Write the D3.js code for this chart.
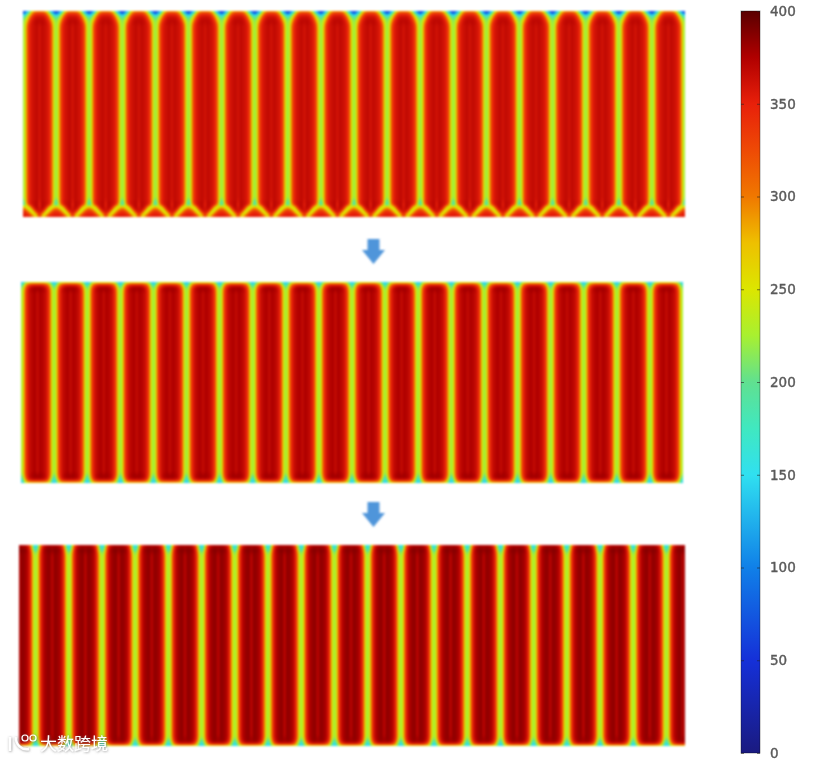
<!DOCTYPE html>
<html>
<head>
<meta charset="utf-8">
<style>
  html, body { margin: 0; padding: 0; background: #fff; }
  #wrap { position: relative; width: 831px; height: 760px; overflow: hidden; }
  canvas, svg { position: absolute; left: 0; top: 0; }
  canvas { filter: blur(0.8px); }
</style>
<script src="https://cdn.jsdelivr.net/npm/d3@7"></script>
</head>
<body>
<div id="wrap"></div>
<script>
// Temperature scale of the colour bar
const tempStops  = [0, 50, 100, 150, 175, 200, 225, 250, 275, 300, 325, 350, 375, 400];
const tempColors = ["#1a1a80", "#1530d8", "#1080e8", "#30e0f0", "#40e8c0", "#60e090", "#a8f030", "#dce600", "#eec000", "#f07800", "#ee4a05", "#e8200a", "#b00000", "#5a0000"];
const tempTicks  = [0, 50, 100, 150, 200, 250, 300, 350, 400];

// Temperature across half a fin, junction to centre line, along the straight part
const bodyA = [218, 238, 312, 345, 358, 362, 366, 368, 358];
const bodyB = [220, 240, 318, 350, 364, 370, 374, 376, 364];
const bodyC = [222, 242, 322, 358, 374, 380, 384, 384, 368];

// End regions of each fin: rows run from the outer edge inward
const endA1 = [
  [40, 70, 105, 160, 225, 262, 280, 285, 285],
  [85, 115, 165, 225, 275, 315, 332, 338, 338],
  [165, 185, 225, 270, 318, 345, 356, 358, 358],
  [200, 215, 252, 300, 340, 356, 364, 366, 366],
  [212, 228, 272, 325, 352, 362, 368, 370, 368],
  [216, 234, 295, 340, 356, 364, 368, 370, 364],
  [218, 236, 308, 344, 358, 362, 366, 368, 360]
];
const endA2 = [
  [355, 355, 352, 348, 338, 310, 272, 285, 335],
  [352, 352, 348, 338, 305, 258, 240, 305, 345],
  [345, 342, 330, 295, 245, 240, 315, 352, 358],
  [318, 310, 280, 240, 242, 320, 356, 366, 358],
  [275, 250, 238, 252, 320, 358, 368, 370, 352],
  [188, 212, 285, 335, 358, 364, 368, 370, 348],
  [178, 226, 315, 348, 360, 364, 368, 370, 352],
  [200, 236, 310, 346, 358, 362, 366, 368, 356]
];
const endB1 = [
  [110, 150, 190, 212, 222, 228, 230, 230, 230],
  [160, 195, 255, 300, 322, 335, 340, 340, 340],
  [200, 225, 292, 335, 356, 368, 372, 374, 374],
  [216, 236, 310, 348, 366, 374, 378, 380, 376],
  [220, 240, 316, 350, 366, 372, 376, 378, 368]
];
const endB2 = [
  [120, 165, 215, 242, 250, 256, 258, 258, 258],
  [145, 188, 258, 310, 336, 346, 350, 350, 350],
  [170, 218, 295, 342, 364, 372, 376, 378, 376],
  [198, 232, 312, 348, 366, 374, 378, 380, 376],
  [216, 240, 318, 350, 364, 372, 376, 378, 368]
];
const endC1 = [
  [140, 178, 262, 325, 355, 365, 370, 370, 370],
  [155, 190, 285, 345, 370, 378, 382, 382, 380],
  [182, 210, 300, 355, 376, 384, 387, 387, 382],
  [206, 230, 314, 358, 376, 382, 386, 386, 376],
  [218, 240, 320, 358, 374, 380, 384, 384, 370]
];
const endC2 = [
  [130, 168, 212, 235, 245, 252, 255, 255, 255],
  [150, 190, 258, 315, 342, 354, 358, 358, 358],
  [182, 220, 298, 350, 368, 378, 382, 382, 378],
  [208, 234, 315, 356, 372, 380, 384, 384, 376],
  [220, 242, 322, 358, 374, 380, 384, 384, 370]
];

const watermark = "大数跨境";

// Page layout
const W = 831, H = 760;
const rowStep = 2.5;
const panels = [
  { x0: 23, x1: 685, y0: 11,  y1: 217, first: 0,   fins: 20, top: endA1, bottom: endA2, body: bodyA },
  { x0: 21, x1: 683, y0: 282, y1: 483, first: 0,   fins: 20, top: endB1, bottom: endB2, body: bodyB },
  { x0: 19, x1: 685, y0: 545, y1: 746, first: -0.5, fins: 20.06, top: endC1, bottom: endC2, body: bodyC }
];
const bar = { x0: 741, x1: 760, y0: 753, y1: 11 };

const color = d3.scaleLinear().domain(tempStops).range(tempColors)
  .interpolate(d3.interpolateRgb).clamp(true);

const wrap = d3.select("#wrap");
const canvas = wrap.append("canvas").attr("width", W).attr("height", H);
const ctx = canvas.node().getContext("2d");
ctx.fillStyle = "#fff";
ctx.fillRect(0, 0, W, H);

// Bilinear lookup in a table of temperatures
function sample(table, r, c) {
  const r0 = Math.min(Math.floor(r), table.length - 1), r1 = Math.min(r0 + 1, table.length - 1);
  const c0 = Math.min(Math.floor(c), table[0].length - 1), c1 = Math.min(c0 + 1, table[0].length - 1);
  const fr = r - r0, fc = c - c0;
  const top = table[r0][c0] * (1 - fc) + table[r0][c1] * fc;
  const bot = table[r1][c0] * (1 - fc) + table[r1][c1] * fc;
  return top * (1 - fr) + bot * fr;
}

// Paint the three temperature fields
panels.forEach(p => {
  const finScale = d3.scaleLinear().domain([p.x0, p.x1]).range([p.first, p.first + p.fins]);
  const colScale = d3.scaleLinear().domain([0, 0.5]).range([0, p.body.length - 1]);
  const topTable = p.top.concat([p.body]);
  const bottomTable = p.bottom.concat([p.body]);
  const topRow = d3.scaleLinear().domain([0, rowStep * p.top.length]).range([0, p.top.length]).clamp(true);
  const bottomRow = d3.scaleLinear().domain([0, rowStep * p.bottom.length]).range([0, p.bottom.length]).clamp(true);
  const w = p.x1 - p.x0, h = p.y1 - p.y0;
  const img = ctx.createImageData(w, h);
  for (let j = 0; j < h; j++) {
    for (let i = 0; i < w; i++) {
      const pos = finScale(p.x0 + i + 0.5);
      const frac = pos - Math.floor(pos);
      const c = colScale(Math.min(frac, 1 - frac));
      const fromTop = j + 0.5, fromBottom = h - j - 0.5;
      const v = fromTop < fromBottom
        ? sample(topTable, topRow(fromTop), c)
        : sample(bottomTable, bottomRow(fromBottom), c);
      const rgb = d3.rgb(color(v));
      const k = (j * w + i) * 4;
      img.data[k] = rgb.r; img.data[k + 1] = rgb.g; img.data[k + 2] = rgb.b; img.data[k + 3] = 255;
    }
  }
  ctx.putImageData(img, p.x0, p.y0);
});

const svg = wrap.append("svg").attr("width", W).attr("height", H);
const defs = svg.append("defs");
defs.append("filter").attr("id", "soft")
  .append("feGaussianBlur").attr("stdDeviation", 1);
const shadow = defs.append("filter").attr("id", "mark-shadow");
shadow.append("feDropShadow").attr("dx", 0.5).attr("dy", 0.5).attr("stdDeviation", 1)
  .attr("flood-color", "#666").attr("flood-opacity", 0.8);

// Flow arrows between the panels
const arrowShape = d3.line()([[-6, -13], [6, -13], [6, -2], [11.5, -2], [0, 12], [-11.5, -2], [-6, -2]]) + "Z";
svg.selectAll(".arrow").data([252, 515]).join("path")
  .attr("class", "arrow")
  .attr("d", arrowShape)
  .attr("transform", d => `translate(373.5,${d})`)
  .attr("fill", "#4f95da")
  .attr("filter", "url(#soft)");

// Colour bar
const tempScale = d3.scaleLinear().domain([0, 400]).range([bar.y0, bar.y1]);
const gradient = defs.append("linearGradient").attr("id", "bar-gradient")
  .attr("x1", 0).attr("x2", 0).attr("y1", 1).attr("y2", 0);
gradient.selectAll("stop").data(tempStops).join("stop")
  .attr("offset", d => d / 400)
  .attr("stop-color", d => color(d));
svg.append("rect")
  .attr("x", bar.x0).attr("y", bar.y1)
  .attr("width", bar.x1 - bar.x0).attr("height", bar.y0 - bar.y1)
  .attr("fill", "url(#bar-gradient)")
  .attr("stroke", "#000").attr("stroke-opacity", 0.35).attr("stroke-width", 1);

// Tick marks on both inner edges of the bar, labels to its right
const tickMarks = (sel, axis) => {
  sel.call(axis);
  sel.select(".domain").remove();
  sel.selectAll("text").remove();
  sel.selectAll("line").attr("stroke", "#222").attr("stroke-opacity", 0.6);
};
svg.append("g").attr("transform", `translate(${bar.x0},0)`)
  .call(tickMarks, d3.axisRight(tempScale).tickValues(tempTicks).tickSize(3));
svg.append("g").attr("transform", `translate(${bar.x1},0)`)
  .call(tickMarks, d3.axisLeft(tempScale).tickValues(tempTicks).tickSize(3));
const labels = svg.append("g").attr("transform", `translate(${bar.x1},0)`)
  .call(d3.axisRight(tempScale).tickValues(tempTicks).tickSize(0).tickPadding(10).tickFormat(d3.format("d")));
labels.select(".domain").remove();
labels.selectAll("text")
  .attr("font-family", "'DejaVu Sans', sans-serif")
  .attr("font-size", 13.5)
  .attr("fill", "#5a5a5a")
  .attr("stroke", "#5a5a5a").attr("stroke-width", 0.4);

// Source mark in the lower left corner
const mark = svg.append("g").attr("filter", "url(#mark-shadow)");
mark.append("path")
  .attr("d", "M10 737 V751 M16 737 A11 11 0 0 0 29 749")
  .attr("fill", "none").attr("stroke", "#fff").attr("stroke-width", 2.4);
mark.selectAll("circle").data([0, 1]).join("circle")
  .attr("cx", d => 25 + d * 8).attr("cy", 738).attr("r", 3)
  .attr("fill", "none").attr("stroke", "#fff").attr("stroke-width", 1.2);
mark.append("text")
  .attr("x", 40).attr("y", 750)
  .attr("font-family", "'Noto Sans CJK SC', sans-serif")
  .attr("font-size", 17)
  .attr("fill", "#fff")
  .text(watermark);
</script>
</body>
</html>
